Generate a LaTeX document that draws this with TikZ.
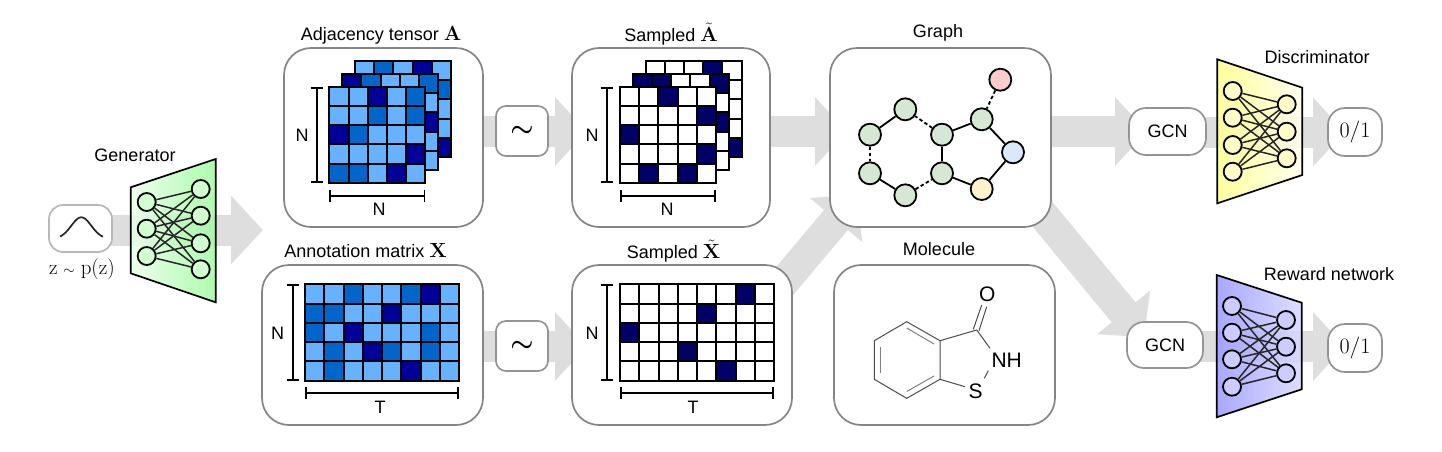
\documentclass[tikz,border=0pt]{standalone}
\usepackage{fix-cm}
\usepackage[no-math]{fontspec}
\usepackage{amsmath}
\usepackage{xcolor}
\usepackage{tikz}
\setmainfont{Liberation Sans}
\usetikzlibrary{arrows.meta}
\definecolor{cL}{HTML}{66B2FF}
\definecolor{cM}{HTML}{0066CC}
\definecolor{cD}{HTML}{000099}
\definecolor{cK}{HTML}{000066}
\definecolor{cW}{HTML}{FFFFFF}
\definecolor{flowgray}{HTML}{DEDEDE}
\definecolor{ggreen}{HTML}{D5E8D4}
\definecolor{gblue}{HTML}{DAE8FC}
\definecolor{gyellow}{HTML}{FFF2CC}
\definecolor{gred}{HTML}{F8CECC}
\newcommand{\matsym}[1]{{\fontsize{20.5}{22}\selectfont$#1$}}
\tikzset{
  every node/.style={font=\fontsize{18}{20}\selectfont},
  flow/.style={draw=flowgray,line width=31pt,-{Triangle[length=32pt,width=67pt,color=flowgray]}},
  panel/.style={draw=black!48,line width=1.7pt,fill=white,rounded corners=27pt,inner sep=0pt},
  smallbox/.style={draw=black!42,line width=1.7pt,fill=white,rounded corners=17pt,inner sep=0pt},
  cell/.style={draw=black,line width=2pt},
  dim/.style={draw=black,line width=1.8pt},
  neuron/.style={circle,draw=black,line width=1.8pt,minimum size=18pt,inner sep=0pt},
  nnedge/.style={draw=black!85,line width=1.5pt},
  funnel/.style={draw=black,line width=1.7pt,fill opacity=0.85},
  gnode/.style={circle,draw=black,line width=1.8pt,minimum size=22pt,inner sep=0pt},
  gedge/.style={draw=black,line width=1.8pt},
  gdash/.style={draw=black,line width=1.8pt,dash pattern=on 3.5pt off 2.5pt},
  bond/.style={draw=black!70,line width=1pt},
}
% #1,#2 top left corner, #3 cell size, #4 rows of colours
\newcommand{\cellgrid}[4]{
  \foreach \rowcells [count=\r from 0] in {#4} {
    \foreach \cellcol [count=\i from 0] in \rowcells {
      \filldraw[cell,fill=\cellcol] ({#1+\i*#3},{#2+\r*#3}) rectangle +(#3,#3);
    }
  }
}
\begin{document}
\begin{tikzpicture}[x=1pt,y=-1pt]
\useasboundingbox (0,0) rectangle (1442,451);
% flows
\coordinate (gensrc) at (110,230);
\coordinate (gentip) at (263,230);
\coordinate (adjsrc) at (480,131.5);
\coordinate (adjtip) at (587,131.5);
\coordinate (annsrc) at (480,346.5);
\coordinate (anntip) at (587,346.5);
\coordinate (samasrc) at (765,131.5);
\coordinate (samatip) at (847,131.5);
\coordinate (samxsrc) at (772,296);
\coordinate (samxtip) at (856.6,195.5);
\coordinate (graphsrc) at (1045,131.5);
\coordinate (graphtip) at (1147,131.5);
\coordinate (rewsrc) at (1034,204);
\coordinate (rewtip) at (1144,337);
\coordinate (discsrc) at (1200,132);
\coordinate (disctip) at (1345,132);
\coordinate (rwdsrc) at (1198,346.5);
\coordinate (rwdtip) at (1345,346.5);
\foreach \a/\b in {gensrc/gentip,adjsrc/adjtip,annsrc/anntip,samasrc/samatip,samxsrc/samxtip,graphsrc/graphtip,rewsrc/rewtip,discsrc/disctip,rwdsrc/rwdtip}
  \draw[flow] (\a) -- (\b);
%
\node[panel,minimum width=199pt,minimum height=179pt] (adjpanel) at (383.5,137.5) {};
\node[panel,minimum width=198pt,minimum height=179pt] (samapanel) at (671,137.5) {};
\node[panel,minimum width=221pt,minimum height=160pt] (annpanel) at (372.5,345) {};
\node[panel,minimum width=220pt,minimum height=160pt] (samxpanel) at (682,345) {};
\node[panel,minimum width=221pt,minimum height=179pt] (graphpanel) at (940.5,137.5) {};
\node[panel,minimum width=221pt,minimum height=160pt] (molpanel) at (944.5,345) {};
\node[smallbox,draw=black!28,minimum width=63pt,minimum height=47pt,rounded corners=14pt] (gaussbox) at (80.5,228.5) {};
\node[smallbox,minimum width=52pt,minimum height=50pt,rounded corners=10pt,font=\fontsize{26}{28}\selectfont\boldmath] (tildea) at (522,131) {$\sim$};
\node[smallbox,minimum width=52pt,minimum height=50pt,rounded corners=10pt,font=\fontsize{26}{28}\selectfont\boldmath] (tildex) at (522,346) {$\sim$};
\node[smallbox,minimum width=77pt,minimum height=47pt] (gcndisc) at (1167.5,131.5) {GCN};
\node[smallbox,minimum width=76pt,minimum height=46pt] (gcnrwd) at (1165,345) {GCN};
\node[smallbox,minimum width=54pt,minimum height=48pt,font=\fontsize{22}{24}\selectfont] (outdisc) at (1355,132) {$0/1$};
\node[smallbox,minimum width=54pt,minimum height=48pt,font=\fontsize{22}{24}\selectfont] (outrwd) at (1355,348) {$0/1$};
%
\node (adjlabel) at (381,35.5) {Adjacency tensor \matsym{\mathbf{A}}};
\node (samalabel) at (671,34) {Sampled \matsym{\tilde{\mathbf{A}}}};
\node (annlabel) at (365.5,250.5) {Annotation matrix \matsym{\mathbf{X}}};
\node (samxlabel) at (673.5,251.5) {Sampled \matsym{\tilde{\mathbf{X}}}};
\node (graphlabel) at (938,33) {Graph};
\node (mollabel) at (939,249) {Molecule};
\node (genlabel) at (135,155) {Generator};
\node (disclabel) at (1317,57) {Discriminator};
\node (rwdlabel) at (1329,274) {Reward network};
\node[font=\fontsize{21}{23}\selectfont] (zlabel) at (82,269) {$\mathrm{z}\ {\scriptstyle\sim}\ \mathrm{p(z)}$};
%
\draw[black!85,line width=1.7pt] plot[smooth,samples=40,domain=60:103] (\x,{238.7-21.4*exp(-((\x-81.3)/10)^2/2)});
%
% adjacency tensor
\cellgrid{354.9}{61}{19.2}{{cL,cM,cL,cD,cL},{cL,cL,cL,cL,cM},{cL,cL,cL,cL,cL},{cL,cL,cL,cL,cL},{cL,cL,cL,cL,cD}}
\cellgrid{342.1}{73.9}{19.2}{{cD,cM,cL,cL,cM},{cL,cL,cL,cL,cL},{cL,cL,cL,cL,cD},{cL,cL,cL,cL,cL},{cL,cL,cL,cL,cL}}
\cellgrid{329.3}{86.7}{19.2}{{cL,cL,cD,cL,cM},{cL,cL,cM,cL,cM},{cD,cM,cL,cL,cL},{cL,cL,cL,cL,cD},{cM,cM,cL,cD,cL}}
% sampled tensor
\cellgrid{645.6}{61}{19.2}{{cW,cW,cW,cK,cW},{cW,cW,cW,cW,cW},{cW,cW,cW,cW,cW},{cW,cW,cW,cW,cW},{cW,cW,cW,cW,cK}}
\cellgrid{632.8}{73.9}{19.2}{{cK,cK,cW,cW,cK},{cW,cW,cW,cW,cW},{cW,cW,cW,cW,cK},{cW,cW,cW,cW,cW},{cW,cW,cW,cW,cW}}
\cellgrid{620}{86.7}{19.2}{{cW,cW,cK,cW,cW},{cW,cW,cW,cW,cK},{cK,cW,cW,cW,cW},{cW,cW,cW,cW,cK},{cW,cK,cW,cK,cW}}
% annotation matrix
\cellgrid{305}{284.3}{19.25}{{cL,cL,cM,cL,cL,cM,cD,cL},{cM,cM,cL,cL,cD,cL,cL,cL},{cM,cL,cD,cL,cL,cL,cM,cL},{cL,cM,cL,cD,cM,cL,cM,cL},{cL,cM,cL,cL,cL,cD,cL,cL}}
% sampled matrix
\cellgrid{620}{284.3}{19.25}{{cW,cW,cW,cW,cW,cW,cK,cW},{cW,cW,cW,cW,cK,cW,cW,cW},{cK,cW,cW,cW,cW,cW,cW,cW},{cW,cW,cW,cK,cW,cW,cW,cW},{cW,cW,cW,cW,cW,cK,cW,cW}}
%
% brackets
\draw[dim,{Bar[width=12pt]}-{Bar[width=12pt]}] (316.7,86.7) -- (316.7,182.7);
\draw[dim,{Bar[width=12pt]}-{Bar[width=12pt]}] (329.3,195.7) -- (425.3,195.7);
\draw[dim,{Bar[width=12pt]}-{Bar[width=12pt]}] (606.7,86.7) -- (606.7,182.7);
\draw[dim,{Bar[width=12pt]}-{Bar[width=12pt]}] (620,195.7) -- (716,195.7);
\draw[dim,{Bar[width=12pt]}-{Bar[width=12pt]}] (292.7,284.3) -- (292.7,380.7);
\draw[dim,{Bar[width=12pt]}-{Bar[width=12pt]}] (305,393) -- (459,393);
\draw[dim,{Bar[width=12pt]}-{Bar[width=12pt]}] (606.7,284.3) -- (606.7,380.7);
\draw[dim,{Bar[width=12pt]}-{Bar[width=12pt]}] (620,393) -- (774,393);
\node (adjn) at (302,135) {N};
\node (adjm) at (379,209) {N};
\node (saman) at (592,135) {N};
\node (samam) at (667,209) {N};
\node (annn) at (277.7,333) {N};
\node (annt) at (380,407) {T};
\node (samxn) at (592,333) {N};
\node (samxt) at (693,407) {T};
%
% generator
\path[funnel,left color=green!8,right color=green!42!black!10!green!38] (130.7,187.3) -- (215.7,159) -- (215.7,302.3) -- (130.7,273.3) -- cycle;
\foreach \y [count=\k] in {202,228.7,256}
  \node[neuron,fill=green!18] (genl\k) at (146.7,\y) {};
\foreach \y [count=\k] in {189,215.7,243.3,269.3}
  \node[neuron,fill=green!18] (genr\k) at (200.7,\y) {};
\foreach \a in {1,2,3}
  \foreach \b in {1,2,3,4}
    \draw[nnedge] (genl\a) -- (genr\b);
% discriminator
\path[funnel,left color=yellow!45,right color=yellow!8] (1217.3,59.3) -- (1302.3,87.7) -- (1302.3,175) -- (1217.3,203.3) -- cycle;
\foreach \y [count=\k] in {91,117.7,145,171.7}
  \node[neuron,fill=yellow!22] (discl\k) at (1232.7,\y) {};
\foreach \y [count=\k] in {104.3,131.7,158.3}
  \node[neuron,fill=yellow!22] (discr\k) at (1286.7,\y) {};
\foreach \a in {1,2,3,4}
  \foreach \b in {1,2,3}
    \draw[nnedge] (discl\a) -- (discr\b);
% reward network
\path[funnel,left color=blue!40,right color=blue!15] (1216.7,275) -- (1301.7,302.7) -- (1301.7,389.3) -- (1216.7,417.3) -- cycle;
\foreach \y [count=\k] in {306,332.7,359.3,386.7}
  \node[neuron,fill=blue!20] (rwdl\k) at (1232,\y) {};
\foreach \y [count=\k] in {320,346.7,373.3}
  \node[neuron,fill=blue!20] (rwdr\k) at (1286,\y) {};
\foreach \a in {1,2,3,4}
  \foreach \b in {1,2,3}
    \draw[nnedge] (rwdl\a) -- (rwdr\b);
%
% graph
\node[gnode,fill=gred] (nred) at (1000.3,79.7) {};
\node[gnode,fill=ggreen] (ntop) at (981.7,119.3) {};
\node[gnode,fill=gblue] (nblue) at (1013,152.3) {};
\node[gnode,fill=gyellow] (nyel) at (981.7,189) {};
\node[gnode,fill=ggreen] (nup) at (942,134.7) {};
\node[gnode,fill=ggreen] (ndown) at (942,173.3) {};
\node[gnode,fill=ggreen] (na) at (905.3,109.3) {};
\node[gnode,fill=ggreen] (nb) at (870,134.7) {};
\node[gnode,fill=ggreen] (nc) at (870,173.3) {};
\node[gnode,fill=ggreen] (nd) at (905.3,195.3) {};
\foreach \a/\b in {ntop/nblue,nblue/nyel,nyel/ndown,ndown/nup,nup/ntop,na/nb,nc/nd}
  \draw[gedge] (\a) -- (\b);
\foreach \a/\b in {nred/ntop,nup/na,nb/nc,nd/ndown}
  \draw[gdash] (\a) -- (\b);
%
% molecule
\coordinate (m1) at (906.7,321.7);
\coordinate (m2) at (940,340.7);
\coordinate (m3) at (940,379.3);
\coordinate (m4) at (906.7,398.3);
\coordinate (m5) at (874.3,379.3);
\coordinate (m6) at (874.3,340.7);
\coordinate (mc) at (976.7,330);
\node[font=\fontsize{21}{23}\selectfont,inner sep=1pt] (mo) at (987.3,294) {O};
\node[font=\fontsize{21}{23}\selectfont,inner sep=1pt] (mnh) at (1006.7,360.7) {NH};
\node[font=\fontsize{21}{23}\selectfont,inner sep=1pt] (ms) at (975.7,391.7) {S};
\draw[bond] (m1) -- (m2) -- (m3) -- (m4) -- (m5) -- (m6) -- cycle;
\draw[bond] (m2) -- (mc) -- (990,348.3);
\draw[bond] (988.3,370.7) -- (984.3,378.3);
\draw[bond] (m3) -- (965,386.7);
\draw[bond] (973.3,329.3) -- (981.7,305);
\draw[bond] (979,330.7) -- (986.7,306.7);
\draw[bond,black!50] (906.7,328) -- (934,344);
\draw[bond,black!50] (880.3,346.7) -- (880.3,373.3);
\draw[bond,black!50] (906.7,391.5) -- (934,376);
\end{tikzpicture}
\end{document}
